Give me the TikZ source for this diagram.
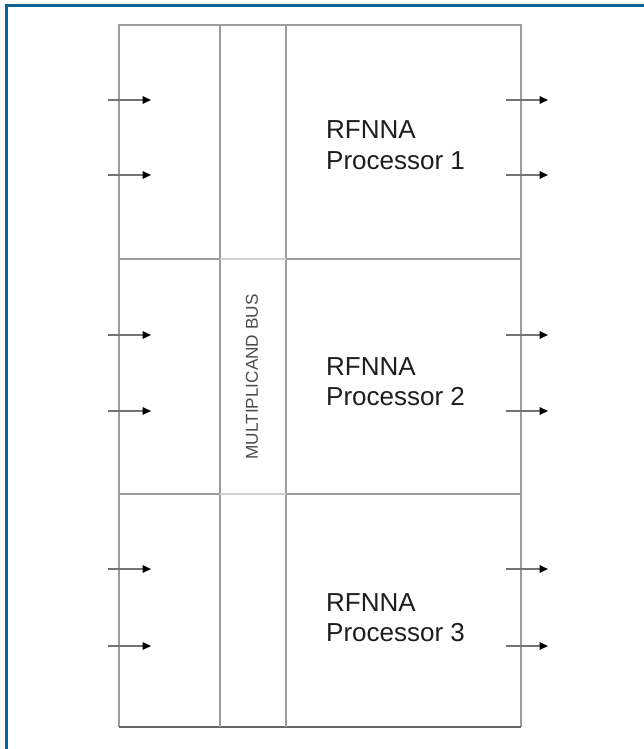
\documentclass[tikz,border=0pt]{standalone}
\usepackage{fontspec}
\setmainfont{Liberation Sans}
\usetikzlibrary{arrows.meta}
\definecolor{frameblue}{HTML}{0E6394}
\definecolor{gridgray}{HTML}{9C9C9C}
\definecolor{textgray}{HTML}{1E1E1E}
\begin{document}
\begin{tikzpicture}[x=1pt,y=-1pt,
  outline/.style={draw=gridgray,line width=2.6pt},
  divider/.style={draw=gridgray,line width=2.2pt},
  faint/.style={draw=gridgray!45,line width=2.2pt},
  sig/.style={draw=black!55,line width=1.8pt,
    -{Triangle[length=8.5pt,width=7.5pt,color=black]}},
  proc/.style={font=\fontsize{26}{30}\selectfont,text=textgray,
    anchor=base west,inner sep=0pt},
  buslabel/.style={font=\fontsize{17.2}{19}\selectfont,text=black!70,
    rotate=90,inner sep=0pt}]
\useasboundingbox (0,0) rectangle (644,749);
\fill[white] (0,0) rectangle (644,749);

% page border (top and left)
\draw[frameblue,line width=3pt] (5,6) -- (644,6);
\draw[frameblue,line width=3pt] (6,5) -- (6,749);

% block corners and column positions
\coordinate (tl) at (119,25);
\coordinate (tr) at (521,25);
\coordinate (bl) at (119,727);
\coordinate (br) at (521,727);
\coordinate (c1t) at (220,25);
\coordinate (c1b) at (220,727);
\coordinate (c2t) at (286,25);
\coordinate (c2b) at (286,727);

% outer frame and the two columns of the bus
\draw[outline] (bl) -- (tl) -- (tr) -- (br);
\draw[outline,draw=black!60] (bl) -- (br);
\draw[outline] (c1t) -- (c1b);
\draw[outline] (c2t) -- (c2b);

% dividers between the three processors
\foreach \y/\n in {259/a,494/b}{
  \coordinate (d\n0) at (119,\y);
  \coordinate (d\n1) at (220,\y);
  \coordinate (d\n2) at (286,\y);
  \coordinate (d\n3) at (521,\y);
  \draw[divider] (d\n0) -- (d\n1);
  \draw[faint] (d\n1) -- (d\n2);
  \draw[divider] (d\n2) -- (d\n3);
}

% input and output signals
\foreach \y/\n in {100/1,175/2,335/3,411/4,569/5,646/6}{
  \coordinate (in\n s) at (108,\y);
  \coordinate (in\n e) at (151,\y);
  \coordinate (out\n s) at (506,\y);
  \coordinate (out\n e) at (548,\y);
  \draw[sig] (in\n s) -- (in\n e);
  \draw[sig] (out\n s) -- (out\n e);
}

% processor labels
\node[proc] (p1a) at (326,139) {RFNNA};
\node[proc] (p1b) at (326,169) {Processor 1};
\node[proc] (p2a) at (326,375) {RFNNA};
\node[proc] (p2b) at (326,405) {Processor 2};
\node[proc] (p3a) at (326,611) {RFNNA};
\node[proc] (p3b) at (326,641) {Processor 3};

% bus label
\node[buslabel] (bus) at (252,377) {MULTIPLICAND BUS};
\end{tikzpicture}
\end{document}
